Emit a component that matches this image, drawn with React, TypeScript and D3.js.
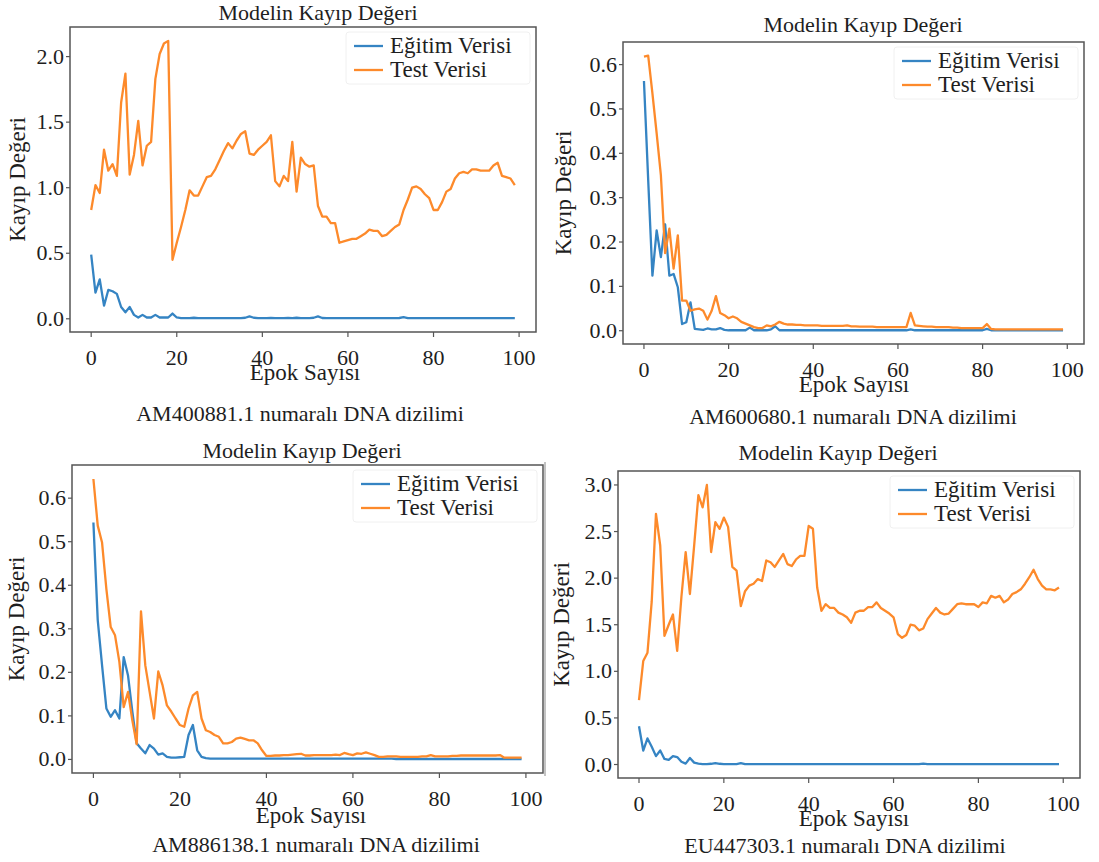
import React from "react";
import * as d3 from "d3";

// epochs 0..99
const epochs = d3.range(100);

const xTicks = [0, 20, 40, 60, 80, 100];
const yTicksA = [0, 0.5, 1.0, 1.5, 2.0];
const yTicksSmall = [0, 0.1, 0.2, 0.3, 0.4, 0.5, 0.6];
const yTicksD = [0, 0.5, 1.0, 1.5, 2.0, 2.5, 3.0];

const seriesNames = ["Eğitim Verisi", "Test Verisi"];
const captions = [
  "AM400881.1 numaralı DNA dizilimi",
  "AM600680.1 numaralı DNA dizilimi",
  "AM886138.1 numaralı DNA dizilimi",
  "EU447303.1 numaralı DNA dizilimi",
];

// AM400881.1
const trainA = [
  0.49, 0.2, 0.3, 0.1, 0.22, 0.21, 0.19, 0.09, 0.05, 0.09,
  0.03, 0.01, 0.03, 0.01, 0.01, 0.03, 0.01, 0.01, 0.01, 0.04,
  0.01, 0.005, 0.005, 0.005, 0.008, 0.005, 0.005, 0.005, 0.005, 0.005,
  0.005, 0.005, 0.005, 0.005, 0.005, 0.005, 0.008, 0.018, 0.008, 0.005,
  0.005, 0.005, 0.006, 0.005, 0.005, 0.005, 0.006, 0.005, 0.008, 0.005,
  0.005, 0.005, 0.008, 0.018, 0.006, 0.005, 0.005, 0.005, 0.005, 0.005,
  0.005, 0.005, 0.005, 0.005, 0.005, 0.005, 0.005, 0.005, 0.005, 0.005,
  0.005, 0.005, 0.006, 0.012, 0.005, 0.005, 0.005, 0.005, 0.005, 0.005,
  0.005, 0.005, 0.005, 0.005, 0.005, 0.005, 0.005, 0.005, 0.005, 0.005,
  0.005, 0.005, 0.005, 0.005, 0.005, 0.005, 0.005, 0.005, 0.005, 0.005,
];
const testA = [
  0.83, 1.02, 0.96, 1.29, 1.13, 1.18, 1.09, 1.65, 1.87, 1.1,
  1.25, 1.51, 1.17, 1.32, 1.35, 1.83, 2.02, 2.1, 2.12, 0.45,
  0.58, 0.7, 0.83, 0.98, 0.94, 0.94, 1.01, 1.08, 1.09, 1.14,
  1.21, 1.28, 1.34, 1.3, 1.36, 1.41, 1.43, 1.26, 1.25, 1.29,
  1.32, 1.35, 1.4, 1.05, 1.01, 1.09, 1.05, 1.35, 0.97, 1.23,
  1.18, 1.16, 1.17, 0.86, 0.78, 0.78, 0.73, 0.73, 0.58, 0.59,
  0.6, 0.61, 0.61, 0.63, 0.65, 0.68, 0.67, 0.67, 0.63, 0.64,
  0.67, 0.7, 0.72, 0.83, 0.91, 1.0, 1.01, 0.99, 0.95, 0.92,
  0.83, 0.83, 0.89, 0.97, 0.99, 1.07, 1.11, 1.12, 1.11, 1.14,
  1.14, 1.13, 1.13, 1.13, 1.17, 1.19, 1.09, 1.08, 1.07, 1.02,
];

// AM600680.1
const trainB = [
  0.563, 0.34, 0.124, 0.226, 0.166, 0.24, 0.124, 0.128, 0.098, 0.015,
  0.019, 0.064, 0.004, 0.003, 0.002, 0.005, 0.003, 0.003, 0.006, 0.002,
  0.001, 0.001, 0.001, 0.001, 0.001, 0.007, 0.001, 0.001, 0.001, 0.001,
  0.003, 0.01, 0.001, 0.001, 0.001, 0.001, 0.001, 0.001, 0.001, 0.001,
  0.001, 0.001, 0.001, 0.001, 0.001, 0.001, 0.001, 0.001, 0.001, 0.001,
  0.001, 0.001, 0.001, 0.001, 0.001, 0.001, 0.001, 0.001, 0.001, 0.001,
  0.001, 0.001, 0.001, 0.003, 0.001, 0.001, 0.001, 0.001, 0.001, 0.001,
  0.001, 0.001, 0.001, 0.001, 0.001, 0.001, 0.001, 0.001, 0.001, 0.001,
  0.001, 0.004, 0.001, 0.001, 0.001, 0.001, 0.001, 0.001, 0.001, 0.001,
  0.001, 0.001, 0.001, 0.001, 0.001, 0.001, 0.001, 0.001, 0.001, 0.001,
];
const testB = [
  0.618, 0.62, 0.535, 0.445, 0.35, 0.175, 0.23, 0.14, 0.215, 0.068,
  0.068, 0.045, 0.048, 0.05, 0.045, 0.025, 0.045, 0.078, 0.04, 0.035,
  0.028, 0.032, 0.028, 0.02, 0.016, 0.012, 0.008, 0.006, 0.006, 0.012,
  0.01, 0.014, 0.02, 0.016, 0.014, 0.014, 0.013, 0.013, 0.012, 0.012,
  0.012, 0.012, 0.011, 0.011, 0.011, 0.011, 0.011, 0.011, 0.012, 0.01,
  0.01, 0.009, 0.009, 0.009, 0.009, 0.008, 0.008, 0.008, 0.008, 0.008,
  0.008, 0.008, 0.008, 0.04, 0.012, 0.011, 0.01, 0.009, 0.009, 0.008,
  0.008, 0.008, 0.008, 0.007, 0.007, 0.006, 0.006, 0.006, 0.006, 0.006,
  0.006, 0.015, 0.004, 0.003, 0.003, 0.003, 0.003, 0.003, 0.003, 0.003,
  0.003, 0.003, 0.003, 0.003, 0.003, 0.003, 0.003, 0.003, 0.003, 0.003,
];

// AM886138.1
const trainC = [
  0.544, 0.32, 0.216, 0.117, 0.098, 0.113, 0.094, 0.235, 0.193, 0.11,
  0.037, 0.025, 0.014, 0.033, 0.025, 0.011, 0.014, 0.006, 0.004, 0.004,
  0.005, 0.006, 0.056, 0.079, 0.021, 0.006, 0.003, 0.002, 0.002, 0.002,
  0.002, 0.002, 0.002, 0.002, 0.002, 0.002, 0.002, 0.002, 0.002, 0.002,
  0.002, 0.002, 0.002, 0.002, 0.002, 0.002, 0.002, 0.002, 0.002, 0.002,
  0.002, 0.002, 0.002, 0.002, 0.002, 0.002, 0.002, 0.002, 0.002, 0.002,
  0.002, 0.002, 0.002, 0.002, 0.002, 0.002, 0.002, 0.002, 0.002, 0.002,
  0.001, 0.001, 0.001, 0.001, 0.001, 0.001, 0.001, 0.001, 0.001, 0.001,
  0.001, 0.001, 0.001, 0.001, 0.001, 0.001, 0.001, 0.001, 0.001, 0.001,
  0.001, 0.001, 0.001, 0.001, 0.001, 0.001, 0.001, 0.001, 0.001, 0.001,
];
const testC = [
  0.644, 0.537, 0.498, 0.391, 0.304, 0.285, 0.224, 0.12, 0.155, 0.09,
  0.035, 0.34, 0.216, 0.155, 0.094, 0.202, 0.17, 0.124, 0.11, 0.094,
  0.079, 0.075, 0.117, 0.147, 0.155, 0.094, 0.067, 0.063, 0.056, 0.052,
  0.037, 0.037, 0.04, 0.048, 0.05, 0.047, 0.044, 0.044, 0.037, 0.021,
  0.008, 0.008, 0.009, 0.009, 0.01, 0.01, 0.011, 0.012, 0.013, 0.009,
  0.009, 0.01, 0.01, 0.01, 0.01, 0.01, 0.011, 0.01, 0.015, 0.012,
  0.01, 0.014, 0.013, 0.016, 0.013, 0.01, 0.006, 0.006, 0.007, 0.007,
  0.007, 0.006, 0.006, 0.006, 0.006, 0.006, 0.007, 0.007, 0.01, 0.007,
  0.007, 0.007, 0.007, 0.008, 0.008, 0.009, 0.009, 0.009, 0.009, 0.009,
  0.009, 0.009, 0.009, 0.009, 0.01, 0.004, 0.004, 0.004, 0.004, 0.004,
];

// EU447303.1
const trainD = [
  0.41, 0.15, 0.28, 0.19, 0.09, 0.15, 0.06, 0.05, 0.09, 0.08,
  0.03, 0.01, 0.07, 0.02, 0.01, 0.005, 0.005, 0.008, 0.015, 0.008,
  0.005, 0.005, 0.005, 0.005, 0.015, 0.005, 0.005, 0.005, 0.005, 0.005,
  0.005, 0.005, 0.005, 0.005, 0.005, 0.005, 0.005, 0.005, 0.005, 0.005,
  0.005, 0.005, 0.005, 0.005, 0.005, 0.005, 0.005, 0.005, 0.005, 0.005,
  0.005, 0.005, 0.005, 0.005, 0.005, 0.005, 0.005, 0.005, 0.005, 0.005,
  0.005, 0.005, 0.005, 0.005, 0.005, 0.005, 0.005, 0.01, 0.005, 0.005,
  0.005, 0.005, 0.005, 0.005, 0.005, 0.005, 0.005, 0.005, 0.005, 0.005,
  0.005, 0.005, 0.005, 0.005, 0.005, 0.005, 0.005, 0.005, 0.005, 0.005,
  0.005, 0.005, 0.005, 0.005, 0.005, 0.005, 0.005, 0.005, 0.005, 0.005,
];
const testD = [
  0.69, 1.11, 1.2, 1.75, 2.69, 2.35, 1.38, 1.5, 1.61, 1.22,
  1.8, 2.28, 1.83, 2.35, 2.89, 2.76, 3.0, 2.28, 2.6, 2.53,
  2.65, 2.55, 2.12, 2.08, 1.7, 1.86, 1.92, 1.94, 1.99, 1.97,
  2.19, 2.17, 2.12, 2.19, 2.26, 2.15, 2.13, 2.2, 2.24, 2.24,
  2.56, 2.53, 1.9, 1.65, 1.72, 1.68, 1.68, 1.63, 1.61, 1.58,
  1.52, 1.63, 1.65, 1.65, 1.69, 1.69, 1.74, 1.68, 1.65, 1.62,
  1.58, 1.4, 1.36, 1.39, 1.5, 1.49, 1.44, 1.46, 1.56, 1.62,
  1.68, 1.63, 1.61, 1.62, 1.67, 1.72, 1.73, 1.72, 1.72, 1.72,
  1.69, 1.74, 1.73, 1.81, 1.79, 1.81, 1.74, 1.77, 1.83, 1.85,
  1.88, 1.94, 2.01, 2.09, 1.99, 1.92, 1.88, 1.88, 1.87, 1.9,
];

const BLUE = "#3584c3";
const ORANGE = "#fd8a2b";
const FONT = "'Liberation Serif', 'Times New Roman', Times, serif";
const TEXT = "#1e1e1e";

interface PanelProps {
  train: number[];
  test: number[];
  yTicks: number[];
  caption: string;
  box: { l: number; t: number; r: number; b: number };
  titleX: number;
  titleY: number;
  captionX: number;
  captionY: number;
  xLabelX: number;
  xLabelY: number;
  yLabelX: number;
}

const Panel = ({ train, test, yTicks, caption, box, titleX, titleY, captionX, captionY, xLabelX, xLabelY, yLabelX }: PanelProps) => {
  // matplotlib-style 5% margins
  const x = d3.scaleLinear().domain([-4.95, 103.95]).range([box.l, box.r]);
  const all = train.concat(test);
  const lo = d3.min(all)!;
  const hi = d3.max(all)!;
  const pad = (hi - lo) * 0.05;
  const y = d3.scaleLinear().domain([lo - pad, hi + pad]).range([box.b, box.t]);
  const line = d3
    .line<number>()
    .x((_, i) => x(epochs[i]))
    .y((d) => y(d));
  const cy = (box.t + box.b) / 2;
  const legX = box.r - 182;
  const rows = [box.t + 19, box.t + 43];

  return (
    <g style={{ fontFamily: FONT }} fill={TEXT}>
      <text x={titleX} y={titleY} textAnchor="middle" fontSize={22}>
        Modelin Kayıp Değeri
      </text>
      <path d={line(train)!} fill="none" stroke={BLUE} strokeWidth={2.3} strokeLinejoin="round" />
      <path d={line(test)!} fill="none" stroke={ORANGE} strokeWidth={2.3} strokeLinejoin="round" />
      <rect x={box.l} y={box.t} width={box.r - box.l} height={box.b - box.t} fill="none" stroke="#555" strokeWidth={1.5} />
      {yTicks.map((t) => (
        <g key={"y" + t}>
          <line x1={box.l - 4} x2={box.l} y1={y(t)} y2={y(t)} stroke="#555" strokeWidth={1.2} />
          <text x={box.l - 6} y={y(t) + 7} textAnchor="end" fontSize={22}>
            {t.toFixed(1)}
          </text>
        </g>
      ))}
      {xTicks.map((t) => (
        <g key={"x" + t}>
          <line x1={x(t)} x2={x(t)} y1={box.b} y2={box.b + 5} stroke="#555" strokeWidth={1.2} />
          <text x={x(t)} y={box.b + 33} textAnchor="middle" fontSize={22}>
            {t}
          </text>
        </g>
      ))}
      <text x={xLabelX} y={xLabelY} textAnchor="middle" fontSize={23}>
        Epok Sayısı
      </text>
      <text transform={`translate(${yLabelX},${cy}) rotate(-90)`} textAnchor="middle" fontSize={23}>
        Kayıp Değeri
      </text>
      <text x={captionX} y={captionY} textAnchor="middle" fontSize={22}>
        {caption}
      </text>
      <rect x={legX - 8} y={box.t + 5} width={box.r - legX + 2} height={52} rx={3} fill="#fff" fillOpacity={0.8} stroke="#f0f0f0" />
      {[BLUE, ORANGE].map((c, i) => (
        <g key={c}>
          <line x1={legX} x2={legX + 29} y1={rows[i]} y2={rows[i]} stroke={c} strokeWidth={2.3} />
          <text x={legX + 36} y={rows[i] + 7} fontSize={23}>
            {seriesNames[i]}
          </text>
        </g>
      ))}
    </g>
  );
};

export default function App() {
  return (
    <svg width={1099} height={862} style={{ position: "absolute", left: 0, top: 0, background: "#fff" }}>
      <rect width={1099} height={862} fill="#fff" />
      <Panel
        train={trainA}
        test={testA}
        yTicks={yTicksA}
        caption={captions[0]}
        box={{ l: 70, t: 27, r: 536, b: 332 }}
        titleX={318}
        titleY={20}
        captionX={300}
        captionY={421}
        xLabelX={305}
        xLabelY={380}
        yLabelX={25}
      />
      <Panel
        train={trainB}
        test={testB}
        yTicks={yTicksSmall}
        caption={captions[1]}
        box={{ l: 623, t: 42, r: 1084, b: 344 }}
        titleX={863}
        titleY={32}
        captionX={853}
        captionY={424}
        xLabelX={854}
        xLabelY={392}
        yLabelX={571}
      />
      <Panel
        train={trainC}
        test={testC}
        yTicks={yTicksSmall}
        caption={captions[2]}
        box={{ l: 72, t: 465, r: 543, b: 773 }}
        titleX={302}
        titleY={458}
        captionX={316}
        captionY={852}
        xLabelX={311}
        xLabelY={823}
        yLabelX={24}
      />
      <Panel
        train={trainD}
        test={testD}
        yTicks={yTicksD}
        caption={captions[3]}
        box={{ l: 618, t: 471, r: 1080, b: 778 }}
        titleX={838}
        titleY={460}
        captionX={845}
        captionY={853}
        xLabelX={854}
        xLabelY={826}
        yLabelX={569}
      />
      <line x1={545} x2={545} y1={462} y2={776} stroke="#888" strokeWidth={1} />
    </svg>
  );
}
